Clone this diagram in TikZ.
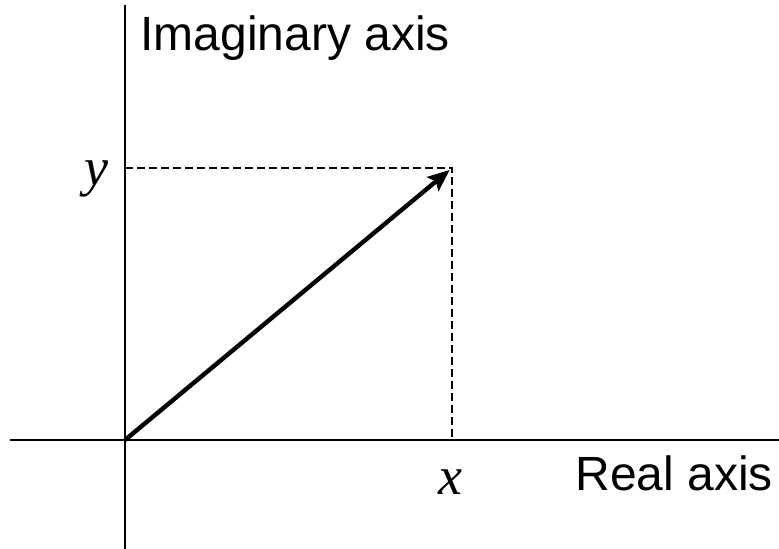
\documentclass[tikz,border=0pt]{standalone}
\usepackage{fontspec}
\setmainfont{Liberation Serif}
\setsansfont{Liberation Sans}
\usepackage{tikz}
\usetikzlibrary{arrows.meta}
\tikzset{
    axis/.style={
        draw=black,
        line width=1.1pt
    },
    guide/.style={
        draw=black,
        line width=0.8pt,
        dash pattern=on 4pt off 2pt
    },
    phasor/.style={
        draw=black,
        line width=2.2pt,
        shorten >=1.5pt,
        -{Stealth[length=11pt,width=9pt,inset=2pt]}
    },
    axislabel/.style={
        inner sep=0pt,
        anchor=base west,
        font=\sffamily\fontsize{24}{27}\selectfont
    },
    varlabel/.style={
        inner sep=0pt,
        anchor=base,
        font=\itshape\fontsize{27}{30}\selectfont
    }
}

\begin{document}
\begin{tikzpicture}[x=0.5pt, y=-0.5pt]
            % Frame :
            \useasboundingbox (0,0) rectangle (779,549);

            % Points
            \coordinate (origin) at (125,440);
            \coordinate (tip) at (452,168);
            \coordinate (reLeft) at (10,440);
            \coordinate (reRight) at (779,440);
            \coordinate (imTop) at (125,5);
            \coordinate (imBottom) at (125,549);

            % Axes
            \draw [axis] (reLeft) -- (reRight);
            \draw [axis] (imBottom) -- (imTop);

            % Projections
            \draw [guide] (origin |- tip) -- (tip) -- (tip |- origin);

            % Vector
            \draw [phasor] (origin) -- (tip);

            % Labels
            \node (imLabel) [axislabel] at (140,51) {Imaginary axis};
            \node (reLabel) [axislabel] at (575,490) {Real axis};
            \node (yLabel) [varlabel] at (96,186) {y};
            \node (xLabel) [varlabel] at (450,494) {x};
        \end{tikzpicture}
\end{document}
